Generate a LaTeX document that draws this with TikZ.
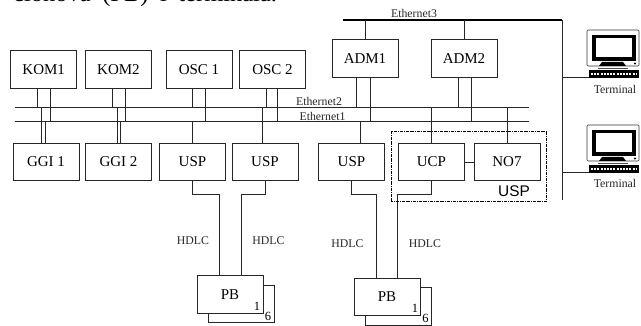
\documentclass[tikz,border=0pt]{standalone}
\usepackage{fontspec}
\setmainfont{Liberation Serif}
\newfontfamily\uspfont{Liberation Sans}
\usetikzlibrary{positioning,calc}

\begin{document}
\begin{tikzpicture}[
    x=1pt, y=-1pt,
    unitbox/.style={rectangle, draw=black!85, fill=white, line width=0.8pt, minimum width=66pt, minimum height=37.5pt, inner sep=0pt, outer sep=0pt, font=\fontsize{15}{17}\selectfont},
    smalltext/.style={inner sep=0pt, font=\fontsize{11.8}{13}\selectfont, text=black!85},
    cornertext/.style={inner sep=0pt, font=\fontsize{12.5}{14}\selectfont},
    wire/.style={line width=0.8pt, draw=black!85},
    terminal/.pic={
        \draw [line width=0.6pt, black!80, rounded corners=1pt] (0,0) rectangle (52,36);
        \draw [line width=3.4pt, fill=white] (7,6.5) rectangle (47,29);
        \fill (15,32) -- (36,32) -- (39,36) -- (12,36) -- cycle;
        \fill (48,33.5) circle (1.2);
        \draw [line width=0.8pt, black!70] (11,38) -- (41,38);
        \fill (2,40) rectangle (52,48);
        \draw [white, line width=1.6pt, dash pattern=on 2pt off 1.2pt] (4,44) -- (50,44);
        \coordinate (-port) at (2,47);
    }
]
\clip (0,0) rectangle (641,326);

% --- TOP LINE, CUT BY THE PAGE ---
\node (caption) [anchor=base west, inner sep=0pt, font=\fontsize{24.5}{26}\selectfont] at (13,2) {\spaceskip=0.47em clonova (PB) i terminala.};

% --- UPPER ROW ---
\node (kom1) [unitbox] at (43.75,69.5) {KOM1};
\node (kom2) [unitbox, right=8.75pt of kom1] {KOM2};
\node (osc1) [unitbox, right=14.5pt of kom2] {OSC 1};
\node (osc2) [unitbox, right=7.5pt of osc1] {OSC 2};
\node (adm1) [unitbox, minimum height=38.5pt] at (365,58.5) {ADM1};
\node (adm2) [unitbox, minimum height=38.5pt, right=33pt of adm1] {ADM2};

% --- LOWER ROW ---
\node (ggi1) [unitbox] at (46,162) {GGI 1};
\node (ggi2) [unitbox, right=6.5pt of ggi1] {GGI 2};
\node (usp1) [unitbox, right=8pt of ggi2] {USP};
\node (usp2) [unitbox, right=6.5pt of usp1] {USP};
\node (usp3) [unitbox, right=20.5pt of usp2] {USP};
\node (ucp)  [unitbox, right=14pt of usp3] {UCP};
\node (no7)  [unitbox, right=9.5pt of ucp] {NO7};

% --- PB STACKS ---
\node (pb1back) [unitbox] at (241.5,304) {};
\node (pb1) [unitbox] at (230,294.2) {PB};
\node (pb2back) [unitbox] at (398,306.5) {};
\node (pb2) [unitbox] at (387,297) {PB};
\node (pb1front) [cornertext] at (257,306) {1};
\node (pb1rear)  [cornertext] at (268,316) {6};
\node (pb2front) [cornertext] at (415,308.5) {1};
\node (pb2rear)  [cornertext] at (425.5,318.5) {6};

% --- TERMINALS ---
\pic (term1) at (587,30) {terminal};
\pic (term2) at (587,125) {terminal};
\node (term1text) [smalltext] at (615,89) {Terminal};
\node (term2text) [smalltext] at (615,183) {Terminal};

% --- BUSES ---
\coordinate (eth1w) at (14.5,121.5);
\coordinate (eth1e) at (529,121.5);
\coordinate (eth2w) at (14.5,107);
\coordinate (eth2e) at (529,107);
\coordinate (eth3w) at (343,20);
\coordinate (eth3e) at (562,20);
\coordinate (eth3s) at (562,200);
\draw [wire] (eth1w) -- (eth1e);
\draw [wire] (eth2w) -- (eth2e);
\draw [line width=1.5pt] (eth3w) -- (eth3e);
\draw [wire] (eth3e) -- (eth3s);
\node (eth1text) [smalltext] at (322.5,116.5) {Ethernet1};
\node (eth2text) [smalltext] at (319,101) {Ethernet2};
\node (eth3text) [smalltext] at (414,13) {Ethernet3};

% --- UPPER ROW TO BUSES ---
\draw [wire] ([xshift=-6.25pt]kom1.south) -- ([xshift=-6.25pt]kom1.south |- eth2w);
\draw [wire] ([xshift=6.75pt]kom1.south) -- ([xshift=6.75pt]kom1.south |- eth1w);
\draw [wire] ([xshift=-6pt]kom2.south) -- ([xshift=-6pt]kom2.south |- eth2w);
\draw [wire] ([xshift=7pt]kom2.south) -- ([xshift=7pt]kom2.south |- eth1w);
\draw [wire] ([xshift=-7pt]osc1.south) -- ([xshift=-7pt]osc1.south |- eth2w);
\draw [wire] ([xshift=6.5pt]osc1.south) -- ([xshift=6.5pt]osc1.south |- eth1w);
\draw [wire] ([xshift=-6.5pt]osc2.south) -- ([xshift=-6.5pt]osc2.south |- eth2w);
\draw [wire] ([xshift=5pt]osc2.south) -- ([xshift=5pt]osc2.south |- eth1w);
\draw [wire] ([xshift=-9pt]adm1.south) -- ([xshift=-9pt]adm1.south |- eth2w);
\draw [wire] ([xshift=5pt]adm1.south) -- ([xshift=5pt]adm1.south |- eth1w);
\draw [wire] ([xshift=-6pt]adm2.south) -- ([xshift=-6pt]adm2.south |- eth2w);
\draw [wire] ([xshift=7pt]adm2.south) -- ([xshift=7pt]adm2.south |- eth1w);
\draw [wire] (adm1.north) -- (adm1.north |- eth3w);
\draw [wire] (adm2.north) -- (adm2.north |- eth3w);

% --- LOWER ROW TO BUSES ---
\draw [wire] ([xshift=-4.3pt]ggi1.north) -- ([xshift=-4.3pt]ggi1.north |- eth2w);
\draw [wire] ([xshift=-0.5pt]ggi1.north) -- ([xshift=-0.5pt]ggi1.north |- eth1w);
\draw [wire] ([xshift=-1.5pt]ggi2.north) -- ([xshift=-1.5pt]ggi2.north |- eth2w);
\draw [wire] ([xshift=2pt]ggi2.north) -- ([xshift=2pt]ggi2.north |- eth1w);
\draw [wire] (usp1.north) -- (usp1.north |- eth1w);
\draw [wire] ([xshift=-2.5pt]usp2.north) -- ([xshift=-2.5pt]usp2.north |- eth2w);
\draw [wire] ([xshift=8.5pt]usp3.north) -- ([xshift=8.5pt]usp3.north |- eth1w);
\draw [wire] (ucp.north) -- (ucp.north |- eth2w);
\draw [wire] (no7.north) -- (no7.north |- eth2w);
\draw [wire] (ucp) -- (no7);

% --- HDLC LINKS ---
\draw [wire] (usp1.south) -- ++(0,14) -| ([xshift=-11pt]pb1.north);
\draw [wire] (usp2.south) -- ++(0,14) -| ([xshift=11pt]pb1.north);
\draw [wire] (usp3.south) -- ++(0,14) -| ([xshift=-11pt]pb2.north);
\draw [wire] (ucp.south) -- ++(0,14) -| ([xshift=10.7pt]pb2.north);
\node (hdlc1) [smalltext] at (193,241) {HDLC};
\node (hdlc2) [smalltext] at (268.5,241) {HDLC};
\node (hdlc3) [smalltext] at (347.5,244) {HDLC};
\node (hdlc4) [smalltext] at (425,244) {HDLC};

% --- TERMINAL LINKS ---
\draw [wire] (eth3e |- term1-port) -- (term1-port);
\draw [wire] (eth3e |- term2-port) -- (term2-port);

% --- USP GROUP ---
\coordinate (groupnw) at (391.7,131);
\coordinate (groupse) at (546.7,201);
\draw [line width=0.7pt, densely dashdotted] (groupnw) rectangle (groupse);
\node (grouptext) [inner sep=0pt, font=\uspfont\fontsize{15.4}{17}\selectfont] at (514,191.5) {USP};

\end{tikzpicture}
\end{document}
